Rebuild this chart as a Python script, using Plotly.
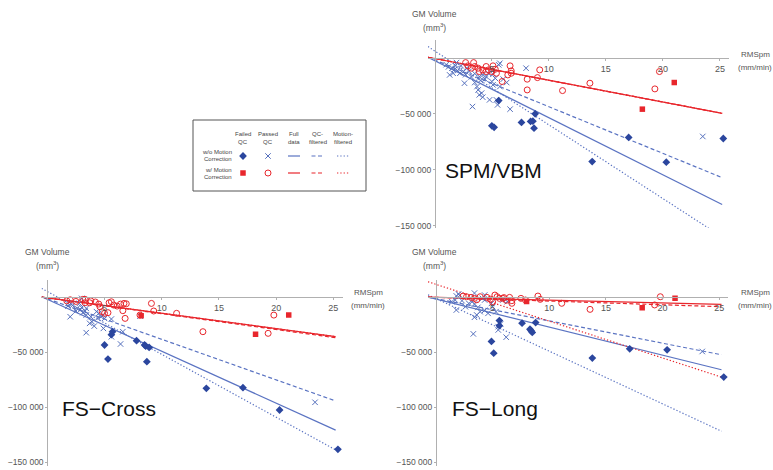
import plotly.graph_objects as go

# ---------------- data ----------------
X_TICKS = [5, 10, 15, 20, 25]
X_TICK_TEXT = ["5", "10", "15", "20", "25"]
Y_TICKS = [-50000, -100000, -150000]
Y_TICK_TEXT = ["\u221250 000", "\u2212100 000", "\u2212150 000"]

# ---- SPM/VBM ----
SPM_FAIL_WO = [(8.8, -50000), (5.0, -60700), (5.2, -62000), (7.6, -57700), (8.4, -56800), (8.6, -56500),
               (8.7, -62800), (5.6, -38100), (13.8, -92600), (17.0, -71100), (20.3, -93200), (25.3, -72000)]
SPM_PASS_WO = [(1.9, -4200), (1.5, -9200), (1.75, -10100), (2.0, -11300), (1.6, -13700), (1.3, -15200),
               (2.2, -13700), (2.5, -12200), (2.6, -22600), (3.5, -22000), (3.7, -25600), (3.8, -28600),
               (3.9, -33000), (4.1, -31500), (4.2, -35100), (4.8, -37500), (5.4, -37500), (5.5, -42000),
               (6.6, -45800), (3.3, -43500), (5.7, -4800), (5.6, -6200), (8.0, -9200), (5.7, -25600),
               (5.0, -21100), (5.1, -24100), (4.5, -16700), (4.7, -13700), (5.1, -14600), (5.3, -18200),
               (4.2, -15200), (3.9, -16700), (1.0, -6000), (1.2, -8000), (2.3, -7000), (2.8, -9000),
               (3.0, -12000), (3.2, -17000), (2.7, -15000), (3.5, -14000), (4.0, -20000), (4.4, -19000),
               (6.0, -19000), (6.3, -22000), (1.8, -7000), (23.5, -70200)]
SPM_FAIL_W = [(18.2, -45800), (21.0, -22000)]
SPM_PASS_W = [(2.7, -4200), (3.4, -4200), (2.9, -7100), (3.5, -7700), (3.8, -9200), (4.5, -7700),
              (4.7, -10700), (5.0, -12200), (5.3, -10100), (5.1, -7100), (5.4, -13700), (5.9, -21100),
              (6.6, -7100), (6.7, -11600), (6.7, -13700), (6.4, -15200), (8.1, -19000), (9.0, -17600),
              (9.2, -10700), (8.1, -28600), (11.2, -29200), (13.6, -22600), (4.5, -12200), (4.2, -10700),
              (3.2, -9200), (3.9, -12200), (19.7, -12200), (19.3, -27700)]
SPM_FIT_X = [-0.6, 25.2]
SPM_FIT_WO_FULL = [600, -131000]
SPM_FIT_WO_QC = [600, -107000]
SPM_FIT_WO_MOT = [10100, -160000]
SPM_FIT_W_FULL = [600, -49500]
SPM_FIT_W_QC = [600, -49500]
SPM_FIT_W_MOT = [600, -49500]

# ---- FS-Cross ----
FSC_FAIL_WO = [(5.0, -43600), (5.3, -56400), (5.7, -31500), (5.6, -34200), (7.8, -39700), (8.5, -43600),
               (8.6, -44500), (8.9, -45800), (8.7, -58800), (13.9, -83000), (17.1, -82400), (20.3, -102700),
               (25.4, -138500)]
FSC_PASS_WO = [(2.1, -6400), (1.8, -8200), (2.2, -7600), (2.6, -10300), (2.9, -11500), (2.5, -12700),
               (3.1, -14200), (3.3, -12700), (3.4, -16400), (3.8, -17900), (3.9, -22400), (3.7, -23900),
               (4.1, -26400), (3.4, -32400), (2.0, -17900), (4.4, -19100), (4.9, -16400), (5.0, -19400),
               (4.9, -28500), (5.6, -20000), (5.6, -36100), (6.4, -42700), (6.6, -31500), (8.1, -17300),
               (3.0, -1200), (1.8, -5800), (2.8, -5800), (3.0, -9400), (3.4, -10300), (4.3, -13300),
               (4.5, -14800), (4.7, -17900), (23.4, -95700)]
FSC_FAIL_W = [(18.2, -33900), (21.1, -16400), (8.2, -17000)]
FSC_PASS_W = [(1.7, -3400), (3.1, -2100), (3.3, -2100), (3.3, -5200), (3.7, -5200), (4.5, -6400),
              (4.6, -8800), (4.8, -13300), (5.0, -14800), (5.3, -14200), (5.4, -5200), (5.6, -4300),
              (5.8, -7300), (6.1, -8200), (6.4, -6400), (6.7, -5800), (6.9, -6100), (6.8, -19400),
              (6.6, -12400), (8.1, -16400), (9.1, -5800), (9.3, -12700), (11.3, -14800), (13.6, -31500),
              (19.8, -16400), (19.3, -33000), (2.0, -2500), (2.5, -4000), (3.8, -3500), (4.2, -4500)]
FSC_FIT_X = [-0.5, 25.2]
FSC_FIT_WO_FULL = [300, -121000]
FSC_FIT_WO_QC = [300, -94500]
FSC_FIT_WO_MOT = [7900, -139000]
FSC_FIT_W_FULL = [0, -36000]
FSC_FIT_W_QC = [0, -37000]
FSC_FIT_W_MOT = [0, -36000]

# ---- FS-Long ----
FSL_FAIL_WO = [(4.9, -40400), (5.1, -51000), (5.6, -21400), (5.6, -26000), (7.6, -23800), (8.3, -29300),
               (8.4, -30600), (8.5, -32200), (8.8, -23200), (13.8, -55500), (17.1, -47100), (20.4, -48000),
               (25.4, -72800)]
FSL_PASS_WO = [(2.0, 2700), (2.1, 1500), (1.8, 1000), (3.4, 3600), (4.3, 1800), (1.7, -2700), (1.4, -4200),
               (2.3, -3300), (1.8, -11800), (2.6, -8800), (2.9, -5800), (3.2, -4200), (3.4, -6400),
               (3.7, -9400), (3.9, -13300), (3.6, -16300), (3.4, -18400), (4.3, -12100), (4.6, -14800),
               (4.9, -5800), (5.0, -8800), (5.3, -13300), (5.5, -26900), (5.5, -29900), (5.7, -24500),
               (3.3, -33500), (6.2, -36500), (5.9, -2700), (6.3, -4200), (4.1, -1200), (4.3, -2700),
               (23.5, -49500)]
FSL_FAIL_W = [(18.2, -9700), (21.1, -1200), (8.0, -4000)]
FSL_PASS_W = [(2.4, 900), (2.7, 300), (3.1, -300), (3.4, -1200), (3.9, 300), (4.5, -300), (5.2, 1800),
              (5.4, 300), (5.6, -1200), (5.9, -1200), (6.5, -300), (6.7, -3300), (6.7, -5700), (7.5, -1200),
              (7.9, -2700), (9.0, 900), (9.2, -2100), (11.1, -5700), (13.6, -11200), (19.8, 300),
              (19.3, -7200), (3.6, -2500), (4.8, -2000), (5.0, -4500), (6.2, -3000), (6.0, -500)]
FSL_FIT_X = [-0.7, 25.2]
FSL_FIT_WO_FULL = [0, -66100]
FSL_FIT_WO_QC = [0, -52500]
FSL_FIT_WO_MOT = [2000, -122000]
FSL_FIT_W_FULL = [0, -6600]
FSL_FIT_W_QC = [0, -8800]
FSL_FIT_W_MOT = [13900, -72800]

PANEL_NAMES = ["SPM/VBM", "FS\u2212Cross", "FS\u2212Long"]

# ---------------- styling / layout ----------------
W, H = 773, 470
FONT = "Liberation Sans, Arial, sans-serif"
BLUE_LINE = "#5a73c2"
BLUE_DARK = "#2b469e"
BLUE_X = "#5570bd"
RED = "#e8262c"
AXIS_COL = "#b0b0b0"
TXT = "#555555"

fig = go.Figure()


def dom_x(a, b):
    return [a / W, b / W]


def dom_y(top, bottom):
    return [1 - bottom / H, 1 - top / H]


panels = [
    dict(ax="", xpx=(428, 729), ypx=(40, 228), xr=[-0.6, 25.8], yr=[-152000, 16000], y0px=58, x0px=435,
         data=(SPM_FAIL_WO, SPM_PASS_WO, SPM_FAIL_W, SPM_PASS_W),
         fits=(SPM_FIT_X, SPM_FIT_WO_FULL, SPM_FIT_WO_QC, SPM_FIT_WO_MOT, SPM_FIT_W_FULL, SPM_FIT_W_QC, SPM_FIT_W_MOT),
         title=(443, 170), ylab=(434, 14), xlab=(755, 54)),
    dict(ax="2", xpx=(41.6, 342.5), ypx=(280, 466.4), xr=[-0.5, 25.8], yr=[-154000, 15500], y0px=297, x0px=47.3,
         data=(FSC_FAIL_WO, FSC_PASS_WO, FSC_FAIL_W, FSC_PASS_W),
         fits=(FSC_FIT_X, FSC_FIT_WO_FULL, FSC_FIT_WO_QC, FSC_FIT_WO_MOT, FSC_FIT_W_FULL, FSC_FIT_W_QC, FSC_FIT_W_MOT),
         title=(60, 408), ylab=(47.5, 252), xlab=(368, 292)),
    dict(ax="3", xpx=(428, 728.3), ypx=(280, 466.4), xr=[-0.7, 25.8], yr=[-154000, 15500], y0px=297, x0px=436,
         data=(FSL_FAIL_WO, FSL_PASS_WO, FSL_FAIL_W, FSL_PASS_W),
         fits=(FSL_FIT_X, FSL_FIT_WO_FULL, FSL_FIT_WO_QC, FSL_FIT_WO_MOT, FSL_FIT_W_FULL, FSL_FIT_W_QC, FSL_FIT_W_MOT),
         title=(450, 408), ylab=(434, 252), xlab=(755, 292)),
]

DASH_QC = "4px,2.5px"
DASH_MOT = "1.3px,2px"

MK_FAIL_WO = dict(symbol="diamond", size=6, color=BLUE_DARK)
MK_PASS_WO = dict(symbol="x-thin", size=5.5, color=BLUE_X, line=dict(color=BLUE_X, width=1))
MK_FAIL_W = dict(symbol="square", size=5.5, color=RED)
MK_PASS_W = dict(symbol="circle-open", size=6, color=RED, line=dict(color=RED, width=1))

for i, p in enumerate(panels):
    xa = "x" + p["ax"]
    ya = "y" + p["ax"]
    fx, wo_full, wo_qc, wo_mot, w_full, w_qc, w_mot = p["fits"]
    for ys, col, dash in [(wo_mot, BLUE_LINE, DASH_MOT), (wo_qc, BLUE_LINE, DASH_QC), (wo_full, BLUE_LINE, "solid"),
                          (w_mot, RED, DASH_MOT), (w_qc, RED, DASH_QC), (w_full, RED, "solid")]:
        fig.add_trace(go.Scatter(x=fx, y=ys, mode="lines", xaxis=xa, yaxis=ya, showlegend=False,
                                 line=dict(color=col, width=1.2, dash=dash)))
    fail_wo, pass_wo, fail_w, pass_w = p["data"]
    for pts, mk in [(pass_wo, MK_PASS_WO), (fail_wo, MK_FAIL_WO), (pass_w, MK_PASS_W), (fail_w, MK_FAIL_W)]:
        fig.add_trace(go.Scatter(x=[a for a, b in pts], y=[b for a, b in pts], mode="markers",
                                 xaxis=xa, yaxis=ya, showlegend=False, marker=mk))

    xkey = "xaxis" + p["ax"]
    ykey = "yaxis" + p["ax"]
    fig.update_layout(**{
        xkey: dict(domain=dom_x(*p["xpx"]), range=p["xr"], anchor="free", position=1 - p["y0px"] / H,
                   showgrid=False, zeroline=False, showline=True, linecolor=AXIS_COL, linewidth=1,
                   tickvals=X_TICKS, ticktext=X_TICK_TEXT, ticks="outside", ticklen=2, tickcolor=AXIS_COL,
                   tickfont=dict(family=FONT, size=9, color=TXT), automargin=False),
        ykey: dict(domain=dom_y(*p["ypx"]), range=p["yr"], anchor="free", position=p["x0px"] / W,
                   showgrid=False, zeroline=False, showline=True, linecolor=AXIS_COL, linewidth=1,
                   tickvals=Y_TICKS, ticktext=Y_TICK_TEXT, ticks="outside", ticklen=2, tickcolor=AXIS_COL,
                   tickfont=dict(family=FONT, size=8.5, color=TXT), automargin=False),
    })

    fig.add_annotation(x=p["ylab"][0], y=p["ylab"][1], xref="x4", yref="y4", text="GM Volume",
                       showarrow=False, font=dict(family=FONT, size=8.5, color=TXT))
    fig.add_annotation(x=p["ylab"][0], y=p["ylab"][1] + 13.5, xref="x4", yref="y4", text="(mm<sup>3</sup>)",
                       showarrow=False, font=dict(family=FONT, size=8.5, color=TXT))
    fig.add_annotation(x=p["xlab"][0], y=p["xlab"][1], xref="x4", yref="y4", text="RMSpm",
                       showarrow=False, font=dict(family=FONT, size=8, color=TXT))
    fig.add_annotation(x=p["xlab"][0], y=p["xlab"][1] + 13, xref="x4", yref="y4", text="(mm/min)",
                       showarrow=False, font=dict(family=FONT, size=8, color=TXT))
    fig.add_annotation(x=p["title"][0], y=p["title"][1], xref="x4", yref="y4", text=PANEL_NAMES[i],
                       xanchor="left", yanchor="middle", showarrow=False,
                       font=dict(family=FONT, size=21, color="#111111"))

# overlay pixel axis for the legend and labels
fig.update_layout(
    xaxis4=dict(domain=[0, 1], range=[0, W], visible=False, anchor="y4", fixedrange=True),
    yaxis4=dict(domain=[0, 1], range=[H, 0], visible=False, anchor="x4", fixedrange=True),
)

# legend box
fig.add_shape(type="rect", xref="x4", yref="y4", x0=193, x1=366, y0=120, y1=191,
              line=dict(color="#555555", width=1), fillcolor="rgba(255,255,255,0)")
LEG_FONT = dict(family=FONT, size=6, color="#444444")
cols = [243, 268, 294, 317.5, 343]
headers = [("Failed", "QC"), ("Passed", "QC"), ("Full", "data"), ("QC-", "filtered"), ("Motion-", "filtered")]
for cx, (l1, l2) in zip(cols, headers):
    fig.add_annotation(x=cx, y=134, xref="x4", yref="y4", text=l1, showarrow=False, font=LEG_FONT)
    fig.add_annotation(x=cx, y=142, xref="x4", yref="y4", text=l2, showarrow=False, font=LEG_FONT)
rows = [(155, "w/o Motion", "Correction"), (173, "w/ Motion", "Correction")]
for ry, l1, l2 in rows:
    fig.add_annotation(x=234, y=ry - 3.5, xref="x4", yref="y4", text=l1, xanchor="right", showarrow=False, font=LEG_FONT)
    fig.add_annotation(x=234, y=ry + 4, xref="x4", yref="y4", text=l2, xanchor="right", showarrow=False, font=LEG_FONT)

r1, r2 = 156, 173
for cx, ry, mk in [(cols[0], r1, MK_FAIL_WO), (cols[1], r1, MK_PASS_WO), (cols[0], r2, MK_FAIL_W), (cols[1], r2, MK_PASS_W)]:
    fig.add_trace(go.Scatter(x=[cx], y=[ry], xaxis="x4", yaxis="y4", mode="markers", showlegend=False, marker=mk))
for cx, dash in [(cols[2], "solid"), (cols[3], DASH_QC), (cols[4], DASH_MOT)]:
    for ry, col in [(r1, BLUE_LINE), (r2, RED)]:
        fig.add_trace(go.Scatter(x=[cx - 6, cx + 6], y=[ry, ry], xaxis="x4", yaxis="y4", mode="lines",
                                 showlegend=False, line=dict(color=col, width=1.2, dash=dash)))

fig.update_layout(width=W, height=H, margin=dict(l=0, r=0, t=0, b=0),
                  paper_bgcolor="white", plot_bgcolor="rgba(0,0,0,0)", showlegend=False)

fig.write_html("out.html", config={"displayModeBar": False, "staticPlot": True},
               post_script="document.body.style.margin='0px';document.body.style.overflow='hidden';")
